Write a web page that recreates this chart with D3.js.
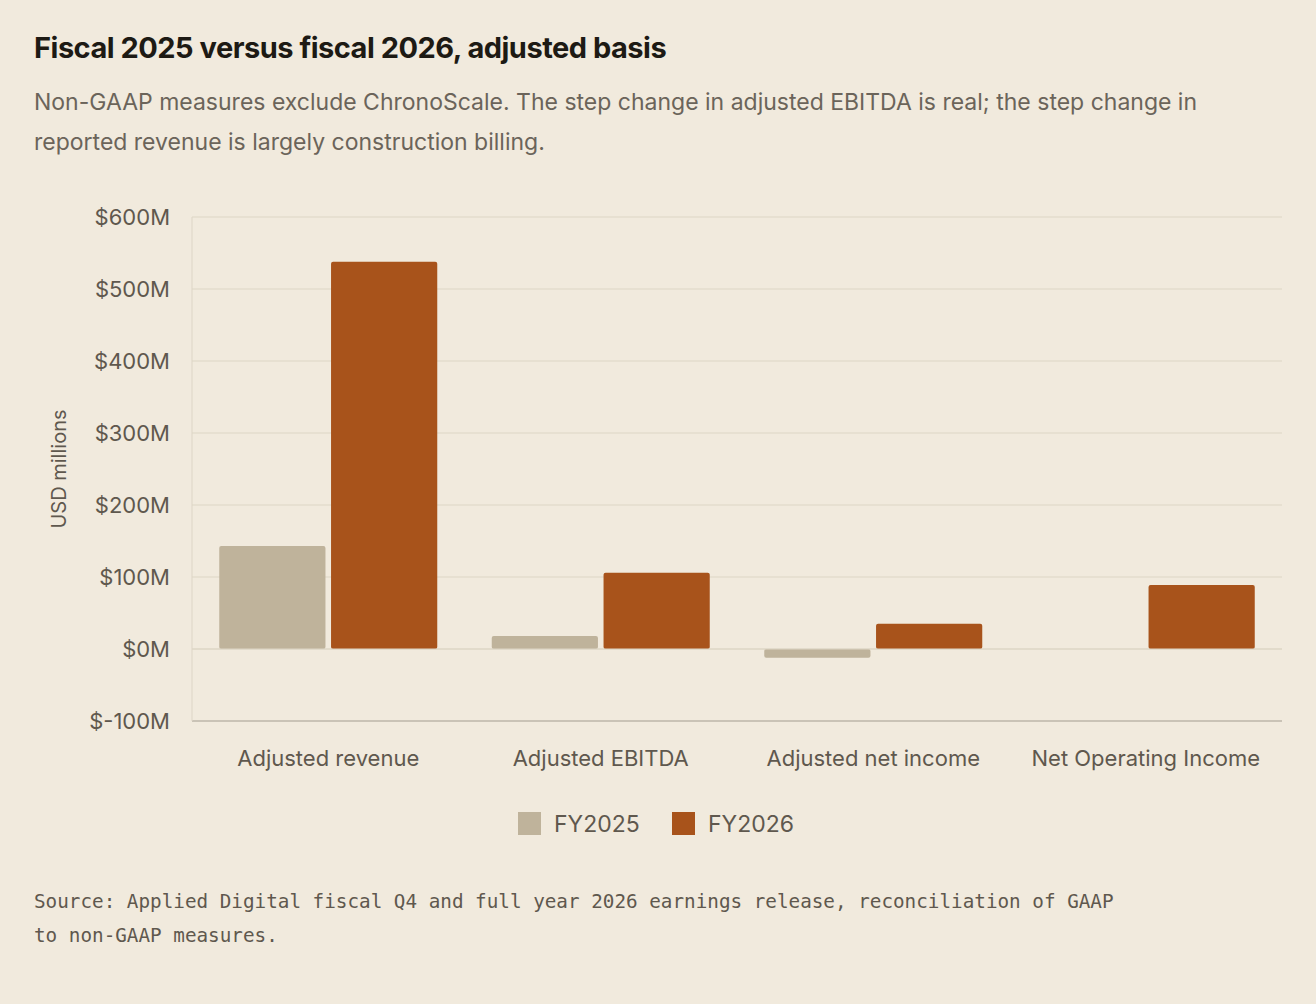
<!DOCTYPE html>
<html><head><meta charset="utf-8">
<script src="https://cdn.jsdelivr.net/npm/d3@7"></script>
<style>
body{margin:0;background:#f1eadd;font-family:Inter,sans-serif;}
</style></head><body><svg id="c" width="1316" height="1004"></svg>
<script>
const categories = ['Adjusted revenue', 'Adjusted EBITDA', 'Adjusted net income', 'Net Operating Income'];
const series = ['FY2025', 'FY2026'];
const fy2025 = [143, 18, -12, null];
const fy2026 = [538, 106, 35, 89];
const yTicks = [-100, 0, 100, 200, 300, 400, 500, 600];
const colors = ['#bfb39b', '#a8531b'];

const svg = d3.select('#c');
svg.append('rect').attr('width', 1316).attr('height', 1004).attr('fill', '#f1eadd');

svg.append('text').attr('x', 34).attr('y', 58).attr('font-size', 29).attr('font-weight', 700)
  .attr('fill', '#1d1a14').attr('letter-spacing', -0.5).text('Fiscal 2025 versus fiscal 2026, adjusted basis');
const sub = ['Non-GAAP measures exclude ChronoScale. The step change in adjusted EBITDA is real; the step change in',
  'reported revenue is largely construction billing.'];
sub.forEach((s, i) => svg.append('text').attr('x', 34).attr('y', 110 + i * 40).attr('font-size', 23)
  .attr('fill', '#6b645a').text(s));

const x0 = 192, x1 = 1282;
const y = d3.scaleLinear().domain([-100, 600]).range([721, 217]);
const xb = d3.scaleBand().domain(categories).range([x0, x1]).paddingInner(0.2).paddingOuter(0.1);
const xs = d3.scaleBand().domain(series).range([0, xb.bandwidth()]).paddingInner(0.05);

const g = svg.append('g');
yTicks.forEach(t => {
  g.append('line').attr('x1', x0).attr('x2', x1).attr('y1', y(t)).attr('y2', y(t))
    .attr('stroke', t === -100 ? '#bdb6a8' : '#ddd5c6').attr('stroke-width', t === -100 ? 1.5 : 1.2);
  g.append('text').attr('x', 170).attr('y', y(t)).attr('dy', '0.35em').attr('text-anchor', 'end')
    .attr('font-size', 22).attr('fill', '#5f584e').text('$' + t + 'M');
});
g.append('line').attr('x1', x0).attr('x2', x0).attr('y1', 217).attr('y2', 721).attr('stroke', '#ddd5c6');

const data = [fy2025, fy2026];
data.forEach((vals, si) => {
  categories.forEach((c, i) => {
    const v = vals[i];
    if (v == null) return;
    g.append('rect').attr('x', xb(c) + xs(series[si])).attr('width', xs.bandwidth())
      .attr('y', y(Math.max(0, v))).attr('height', Math.abs(y(v) - y(0)))
      .attr('rx', 2).attr('fill', colors[si]);
  });
});
g.append('line').attr('x1', x0).attr('x2', x1).attr('y1', y(0)).attr('y2', y(0)).attr('stroke', '#ddd5c6').attr('stroke-width', 1.2);

categories.forEach(c => g.append('text').attr('x', xb(c) + xb.bandwidth() / 2).attr('y', 766)
  .attr('text-anchor', 'middle').attr('font-size', 22).attr('fill', '#5f584e').text(c));

svg.append('text').attr('transform', 'translate(66,469) rotate(-90)').attr('text-anchor', 'middle')
  .attr('font-size', 20).attr('fill', '#5f584e').text('USD millions');

const lx = [518, 672];
series.forEach((s, i) => {
  svg.append('rect').attr('x', lx[i]).attr('y', 812).attr('width', 23).attr('height', 23).attr('fill', colors[i]);
  svg.append('text').attr('x', lx[i] + 36).attr('y', 832).attr('font-size', 23).attr('fill', '#5f584e').text(s);
});

const src = ['Source: Applied Digital fiscal Q4 and full year 2026 earnings release, reconciliation of GAAP',
  'to non-GAAP measures.'];
src.forEach((s, i) => svg.append('text').attr('x', 34).attr('y', 908 + i * 34)
  .attr('font-family', '"DejaVu Sans Mono", monospace').attr('font-size', 19.3).attr('fill', '#5f584e').text(s));
</script></body></html>
